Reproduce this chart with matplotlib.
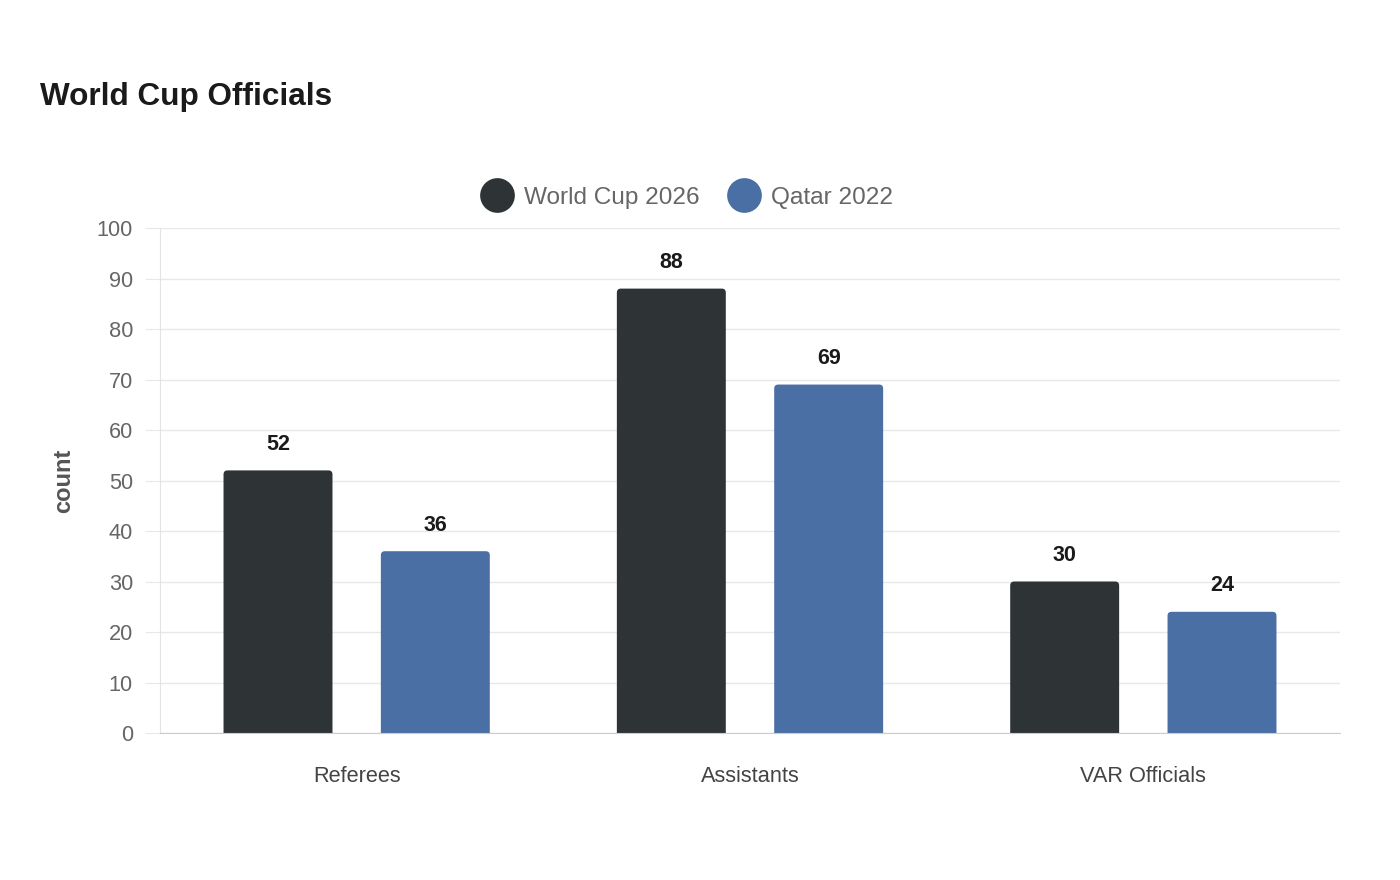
import numpy as np
import matplotlib.pyplot as plt
from matplotlib.patches import FancyBboxPatch

plt.rcParams['font.family'] = ['Liberation Sans', 'DejaVu Sans']

categories = ["Referees", "Assistants", "VAR Officials"]
wc2026 = [52, 88, 30]
qatar2022 = [36, 69, 24]
series_names = ["World Cup 2026", "Qatar 2022"]
colors = ["#2e3436", "#4a6fa5"]

fig = plt.figure(figsize=(14, 8.8), dpi=100)
ax = fig.add_axes([160/1400, 1 - 733/880, 1180/1400, 505/880])

x = np.arange(len(categories))
width = 0.277
offsets = [-0.2, 0.2]

# px per data unit, for rounded corners
px_x = 1180 / 3.0
px_y = 505 / 100.0

for vals, off, col in zip([wc2026, qatar2022], offsets, colors):
    bars = ax.bar(x + off, vals, width, color=col, alpha=0)
    for b, v in zip(bars, vals):
        patch = FancyBboxPatch((b.get_x(), -2), width, v + 2,
                               boxstyle="round,pad=0,rounding_size=%f" % (4 / px_x),
                               mutation_aspect=px_x / px_y,
                               facecolor=col, edgecolor='none', zorder=2)
        ax.add_patch(patch)
        ax.text(b.get_x() + width / 2, v + 3.1, str(v), ha='center', va='bottom',
                fontsize=15.5, fontweight='bold', color='#1a1a1a')

ax.set_xlim(-0.5, 2.5)
ax.set_ylim(0, 100)
ax.set_yticks(np.arange(0, 101, 10))
ax.set_xticks(x)
ax.set_xticklabels(categories)
ax.grid(axis='y', color='#e8e8e8', linewidth=1, zorder=0)
ax.set_axisbelow(True)

for s in ['top', 'right']:
    ax.spines[s].set_visible(False)
ax.spines['left'].set_color('#e3e3e3')
ax.spines['bottom'].set_color('#cccccc')
ax.spines['bottom'].set_zorder(3)

ax.tick_params(axis='y', length=11, color='#e8e8e8', labelsize=15.7, labelcolor='#666666', pad=8.5)
ax.tick_params(axis='x', length=0, labelsize=15.7, labelcolor='#444444', pad=24)

ax.set_ylabel("count", fontsize=17, fontweight='bold', color='#555555', labelpad=15.5)

fig.text(40/1400, 1 - 97/880, "World Cup Officials", fontsize=22.7, fontweight='bold',
         color='#1a1a1a', va='center', ha='left')

handles = [plt.Line2D([], [], marker='o', linestyle='none', markersize=25,
                      markerfacecolor=c, markeredgecolor='none') for c in colors]
fig.legend(handles, series_names, loc='center', bbox_to_anchor=(687/1400, 1 - 198/880),
           ncol=2, frameon=False, fontsize=17.6, labelcolor='#666666',
           handletextpad=0.45, columnspacing=1.2, handlelength=1.3)

fig.savefig("out.png", dpi=100, facecolor='white')
